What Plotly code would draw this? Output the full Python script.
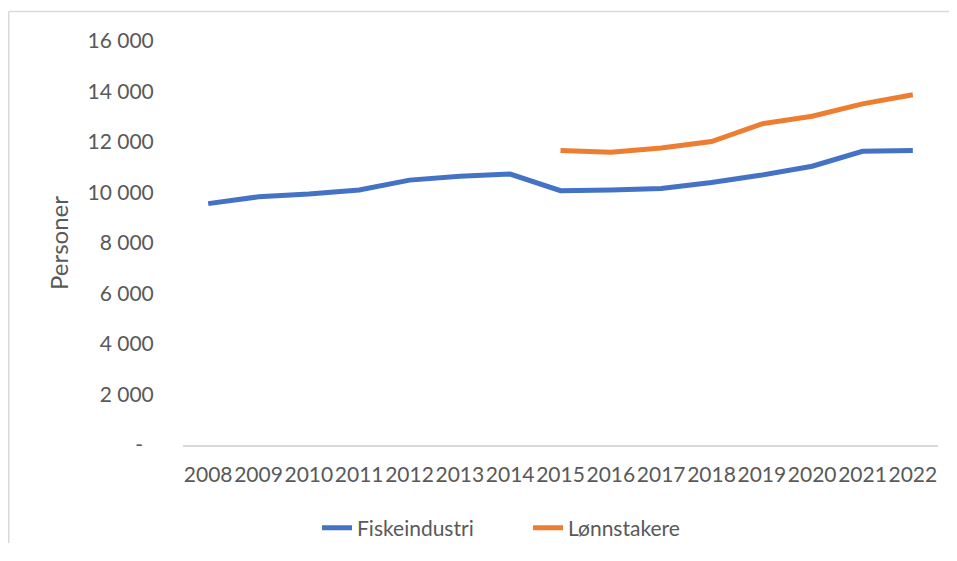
import plotly.graph_objects as go

years = ["2008", "2009", "2010", "2011", "2012", "2013", "2014", "2015",
         "2016", "2017", "2018", "2019", "2020", "2021", "2022"]
fiskeindustri = [9560, 9830, 9940, 10100, 10490, 10640, 10730, 10070,
                 10100, 10160, 10400, 10690, 11040, 11630, 11660]
lonnstakere = [None, None, None, None, None, None, None, 11660,
               11590, 11760, 12020, 12720, 13020, 13510, 13870]
y_tickvals = [0, 2000, 4000, 6000, 8000, 10000, 12000, 14000, 16000]
y_ticktext = ["-\u00a0\u00a0", "2 000", "4 000", "6 000", "8 000",
              "10 000", "12 000", "14 000", "16 000"]

FONT = "Lato, 'Open Sans', sans-serif"
TXT = "#595959"

fig = go.Figure()
fig.add_trace(go.Scatter(x=years, y=fiskeindustri, mode="lines", name="Fiskeindustri",
                         line=dict(color="#4472C4", width=5)))
fig.add_trace(go.Scatter(x=years, y=lonnstakere, mode="lines", name="Lønnstakere",
                         line=dict(color="#ED7D31", width=5)))

bx0 = (8.7 - 183) / 755
bx1 = (949 - 183) / 755
by0 = (445 - 543) / 404
by1 = (445 - 11.5) / 404

fig.update_layout(
    width=941, height=535,
    margin=dict(l=175, r=11, t=33, b=98, autoexpand=False),
    paper_bgcolor="white", plot_bgcolor="white",
    font=dict(family=FONT, size=21, color=TXT),
    showlegend=True,
    legend=dict(orientation="h", x=0.1775, xanchor="left", y=-0.2054, yanchor="middle",
                entrywidth=166, entrywidthmode="pixels",
                font=dict(family=FONT, size=21, color=TXT), bgcolor="rgba(0,0,0,0)"),
    xaxis=dict(type="category", showgrid=False, zeroline=False, showline=True,
               linecolor="#d9d9d9", linewidth=1.5, ticks="outside", ticklen=10,
               tickcolor="rgba(0,0,0,0)", tickangle=0, automargin=False,
               tickfont=dict(family=FONT, size=21, color=TXT), range=[-0.5, 14.5]),
    yaxis=dict(range=[0, 16000], tickvals=y_tickvals, ticktext=y_ticktext,
               showgrid=False, zeroline=False, showline=False, ticks="outside",
               ticklen=24, tickcolor="rgba(0,0,0,0)", automargin=False,
               tickfont=dict(family=FONT, size=21, color=TXT),
               title=dict(text="Personer", font=dict(family=FONT, size=24, color=TXT), standoff=12)),
    shapes=[
        dict(type="line", xref="paper", yref="paper", x0=bx0, x1=bx0, y0=by0, y1=by1,
             line=dict(color="#d9d9d9", width=1.5), layer="below"),
        dict(type="line", xref="paper", yref="paper", x0=bx0, x1=bx1, y0=by1, y1=by1,
             line=dict(color="#d9d9d9", width=1.5), layer="below"),
    ],
)

fig.write_html("out.html")
